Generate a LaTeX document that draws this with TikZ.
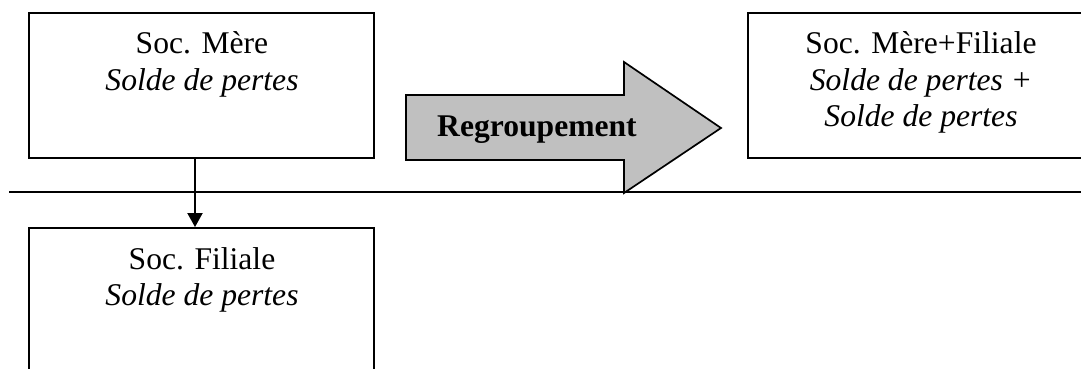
\documentclass[tikz,border=0pt]{standalone}
\usepackage{fontspec}
\setmainfont{Liberation Serif}
\usetikzlibrary{arrows.meta}
\definecolor{arrowgray}{RGB}{192,192,192}
\begin{document}
\begin{tikzpicture}[x=1pt,y=-1pt,
  box/.style={draw=black,line width=1.9pt,minimum width=345pt,inner sep=0pt},
  txt/.style={inner sep=0pt,anchor=base,font=\fontsize{31.6}{36}\selectfont},
  itxt/.style={txt,font=\fontsize{31.6}{36}\selectfont\itshape},
  conn/.style={line width=1.9pt,-{Triangle[width=15pt,length=14pt]}},
  bigarrow/.style={draw=black,line width=1.7pt,fill=arrowgray,line join=miter}]
\useasboundingbox (0,0) rectangle (1081,369);
\clip (0,0) rectangle (1081,369);

% boxes
\node[box,minimum height=145.3pt] (mere) at (201.3,85.3) {};
\node[box,minimum height=192pt] (filiale) at (201.5,324) {};
\node[box,minimum height=145.3pt] (groupe) at (920.8,85.3) {};

% texts
\node[txt]  (m1) at (202,54) {Soc. Mère};
\node[itxt] (m2) at (202,90) {Solde de pertes};
\node[txt]  (f1) at (202,269) {Soc. Filiale};
\node[itxt] (f2) at (202,305) {Solde de pertes};
\node[txt]  (g1) at (921,54) {Soc. Mère+Filiale};
\node[itxt] (g2) at (921,90) {Solde de pertes +};
\node[itxt] (g3) at (921,126) {Solde de pertes};

% horizontal separator
\coordinate (hl1) at (9,192);
\coordinate (hl2) at (1090,192);
\draw[line width=1.7pt] (hl1) -- (hl2);

% big arrow
\coordinate (a1) at (406,95);
\coordinate (a2) at (624,95);
\coordinate (a3) at (624,62);
\coordinate (a4) at (721,128);
\coordinate (a5) at (624,193);
\coordinate (a6) at (624,160);
\coordinate (a7) at (406,160);
\draw[bigarrow] (a1) -- (a2) -- (a3) -- (a4) -- (a5) -- (a6) -- (a7) -- cycle;
\node[txt,font=\fontsize{31.6}{36}\selectfont\bfseries] (reg) at (537,136) {Regroupement};

% connector
\coordinate (cx) at (195,0);
\draw[conn] (mere.south -| cx) -- (filiale.north -| cx);
\end{tikzpicture}
\end{document}
